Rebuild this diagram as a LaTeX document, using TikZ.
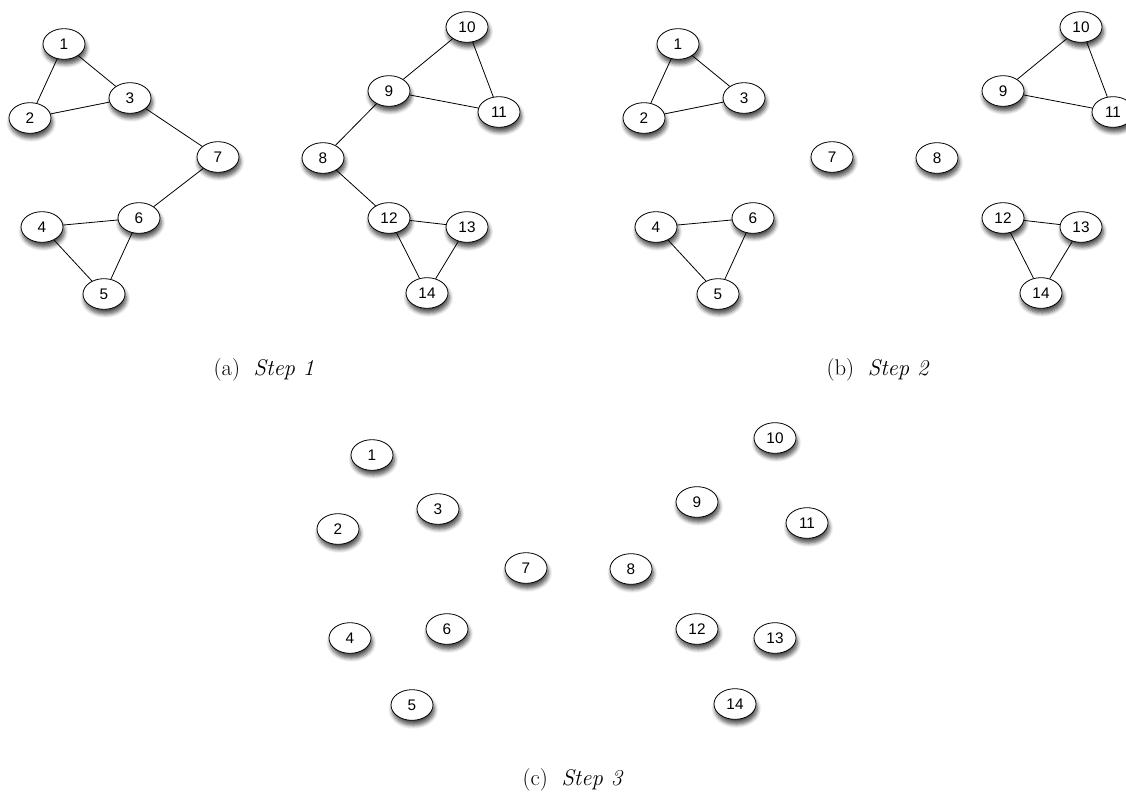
\documentclass[tikz,border=0pt]{standalone}
\usepackage{fontspec}
\usepackage{tikz}
\usetikzlibrary{shapes,arrows,shadows,shadows.blur}
\newfontfamily\vertexfont{Liberation Sans}

\newcommand{\stepnodes}[1]{%
\node[vertex] (#1-1) at (64,44) {1};
\node[vertex] (#1-2) at (30,118) {2};
\node[vertex] (#1-3) at (130,98) {3};
\node[vertex] (#1-4) at (42,227) {4};
\node[vertex] (#1-5) at (104,294) {5};
\node[vertex] (#1-6) at (139,218) {6};
\node[vertex] (#1-7) at (218,157) {7};
\node[vertex] (#1-8) at (323,158) {8};
\node[vertex] (#1-9) at (389,91) {9};
\node[vertex] (#1-10) at (467,27) {10};
\node[vertex] (#1-11) at (499,112) {11};
\node[vertex] (#1-12) at (389,218) {12};
\node[vertex] (#1-13) at (467,227) {13};
\node[vertex] (#1-14) at (427,293) {14};
}
\newcommand{\steptriangles}[1]{%
\draw[edge] (#1-1) -- (#1-2) -- (#1-3) -- (#1-1);
\draw[edge] (#1-4) -- (#1-5) -- (#1-6) -- (#1-4);
\draw[edge] (#1-9) -- (#1-10) -- (#1-11) -- (#1-9);
\draw[edge] (#1-12) -- (#1-13) -- (#1-14) -- (#1-12);
}

\begin{document}
\begin{tikzpicture}[x=0.75pt,y=-0.75pt,
  vertex/.style={ellipse, draw=black, line width=0.6pt, fill=white,
    minimum width=31.5pt, minimum height=23pt, inner sep=0pt,
    font=\vertexfont\fontsize{11.5}{13}\selectfont,
    blur shadow={shadow xshift=1pt, shadow yshift=-3.5pt,
      shadow blur radius=3pt, shadow blur steps=6, shadow opacity=70}},
  edge/.style={black, line width=0.6pt},
  caption/.style={font=\fontsize{17}{20}\selectfont, inner sep=0pt}]
\useasboundingbox (0,0) rectangle (1126,793);

\begin{scope}
\stepnodes{a}
\end{scope}
\steptriangles{a}
\draw[edge] (a-3) -- (a-7) -- (a-6);
\draw[edge] (a-9) -- (a-8) -- (a-12);

\begin{scope}[shift={(614,0)}]
\stepnodes{b}
\end{scope}
\steptriangles{b}

\begin{scope}[shift={(308,411)}]
\stepnodes{c}
\end{scope}

\node[caption] (cap-a) at (264,370) {(a)\hspace{0.6em}\textit{Step 1}};
\node[caption] (cap-b) at (878,370) {(b)\hspace{0.6em}\textit{Step 2}};
\node[caption] (cap-c) at (573,780) {(c)\hspace{0.6em}\textit{Step 3}};

\end{tikzpicture}
\end{document}
